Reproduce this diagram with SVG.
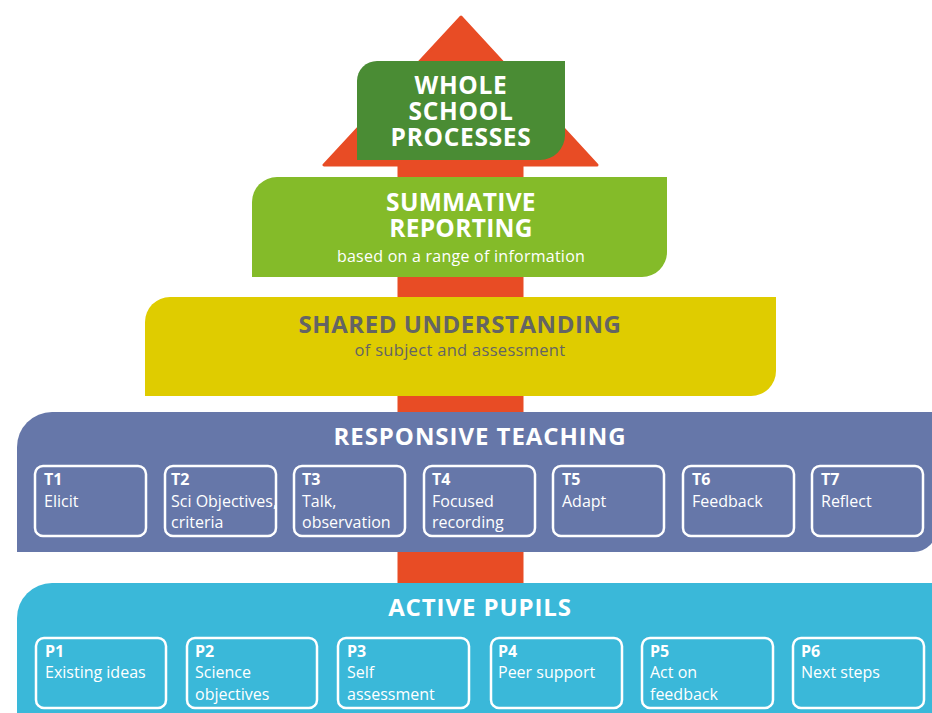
<svg xmlns="http://www.w3.org/2000/svg" width="932" height="713" viewBox="0 0 932 713">
  <style>
    .title { font-family: "Open Sans", "Liberation Sans", sans-serif; font-weight: 700; fill: #ffffff; text-anchor: middle; }
    .sub { font-family: "Open Sans", "Liberation Sans", sans-serif; font-weight: 400; fill: #ffffff; text-anchor: middle; }
    .grey { fill: #646464; }
    .card { fill: none; stroke: #ffffff; stroke-width: 2.5; }
    .code { font-family: "Open Sans", "Liberation Sans", sans-serif; font-weight: 700; font-size: 16px; fill: #ffffff; }
    .lbl { font-family: "Open Sans", "Liberation Sans", sans-serif; font-weight: 400; font-size: 16px; fill: #ffffff; }
  </style>
  <rect width="932" height="713" fill="#ffffff"/>

  <!-- upward arrow behind the tiers -->
  <g id="connectors">
    <path id="arrow" d="M461,17 L324,165 L399,165 L399,584 L522,584 L522,165 L597,165 Z" fill="#e84c25" stroke="#e84c25" stroke-width="3" stroke-linejoin="round"/>
  </g>

  <!-- active pupils -->
  <g id="active-pupils">
    <path d="M17,618 A35,35 0 0 1 52,583 H940 V720 H17 Z" fill="#3ab8d9"/>
    <text class="title" x="480" y="616" font-size="24" letter-spacing="0.9">ACTIVE PUPILS</text>
    <g id="p1"><rect class="card" x="36" y="638" width="130" height="70" rx="8"/><text class="code" x="45" y="657">P1</text><text class="lbl" x="45" y="678">Existing ideas</text></g>
    <g id="p2"><rect class="card" x="187" y="638" width="130" height="70" rx="8"/><text class="code" x="195" y="657">P2</text><text class="lbl" x="195" y="678">Science</text><text class="lbl" x="195" y="700">objectives</text></g>
    <g id="p3"><rect class="card" x="338" y="638" width="131" height="70" rx="8"/><text class="code" x="347" y="657">P3</text><text class="lbl" x="347" y="678">Self</text><text class="lbl" x="347" y="700">assessment</text></g>
    <g id="p4"><rect class="card" x="491" y="638" width="131" height="70" rx="8"/><text class="code" x="498" y="657">P4</text><text class="lbl" x="498" y="678">Peer support</text></g>
    <g id="p5"><rect class="card" x="642" y="638" width="131" height="70" rx="8"/><text class="code" x="650" y="657">P5</text><text class="lbl" x="650" y="678">Act on</text><text class="lbl" x="650" y="700">feedback</text></g>
    <g id="p6"><rect class="card" x="793" y="638" width="131" height="70" rx="8"/><text class="code" x="801" y="657">P6</text><text class="lbl" x="801" y="678">Next steps</text></g>
  </g>

  <!-- responsive teaching -->
  <g id="responsive-teaching">
    <path d="M17,447 A35,35 0 0 1 52,412 H936 V530 A22,22 0 0 1 914,552 H17 Z" fill="#6677a9"/>
    <text class="title" x="480" y="445" font-size="24" letter-spacing="0.95">RESPONSIVE TEACHING</text>
    <g id="t1"><rect class="card" x="35" y="466" width="111" height="70" rx="8"/><text class="code" x="44" y="485">T1</text><text class="lbl" x="44" y="507">Elicit</text></g>
    <g id="t2"><rect class="card" x="165" y="466" width="111" height="70" rx="8"/><text class="code" x="171" y="485">T2</text><text class="lbl" x="171" y="507">Sci Objectives,</text><text class="lbl" x="171" y="528">criteria</text></g>
    <g id="t3"><rect class="card" x="294" y="466" width="111" height="70" rx="8"/><text class="code" x="302" y="485">T3</text><text class="lbl" x="302" y="507">Talk,</text><text class="lbl" x="302" y="528">observation</text></g>
    <g id="t4"><rect class="card" x="424" y="466" width="111" height="70" rx="8"/><text class="code" x="432" y="485">T4</text><text class="lbl" x="432" y="507">Focused</text><text class="lbl" x="432" y="528">recording</text></g>
    <g id="t5"><rect class="card" x="553" y="466" width="111" height="70" rx="8"/><text class="code" x="562" y="485">T5</text><text class="lbl" x="562" y="507">Adapt</text></g>
    <g id="t6"><rect class="card" x="683" y="466" width="111" height="70" rx="8"/><text class="code" x="692" y="485">T6</text><text class="lbl" x="692" y="507">Feedback</text></g>
    <g id="t7"><rect class="card" x="812" y="466" width="111" height="70" rx="8"/><text class="code" x="821" y="485">T7</text><text class="lbl" x="821" y="507">Reflect</text></g>
  </g>

  <!-- shared understanding -->
  <g id="shared-understanding">
    <path d="M145,322 A25,25 0 0 1 170,297 H776 V371 A25,25 0 0 1 751,396 H145 Z" fill="#dfcc00"/>
    <text class="title grey" x="460" y="333" font-size="24" letter-spacing="0.55">SHARED UNDERSTANDING</text>
    <text class="sub grey" x="460" y="356" font-size="16.5" letter-spacing="0.3">of subject and assessment</text>
  </g>

  <!-- summative reporting -->
  <g id="summative-reporting">
    <path d="M252,202 A25,25 0 0 1 277,177 H667 V252 A25,25 0 0 1 642,277 H252 Z" fill="#84bb29"/>
    <text class="title" x="461" y="211" font-size="24.5" letter-spacing="0.3">SUMMATIVE</text>
    <text class="title" x="461" y="237" font-size="24.5" letter-spacing="0.3">REPORTING</text>
    <text class="sub" x="461" y="262" font-size="16" letter-spacing="0.25">based on a range of information</text>
  </g>

  <!-- whole school processes -->
  <g id="whole-school">
    <path d="M357,81 A20,20 0 0 1 377,61 H565 V135 A25,25 0 0 1 540,160 H357 Z" fill="#4a8c34"/>
    <text class="title" x="461" y="94" font-size="24.5" letter-spacing="0.7">WHOLE</text>
    <text class="title" x="461" y="120" font-size="24.5" letter-spacing="0.7">SCHOOL</text>
    <text class="title" x="461" y="146" font-size="24.5" letter-spacing="0.7">PROCESSES</text>
  </g>
</svg>
